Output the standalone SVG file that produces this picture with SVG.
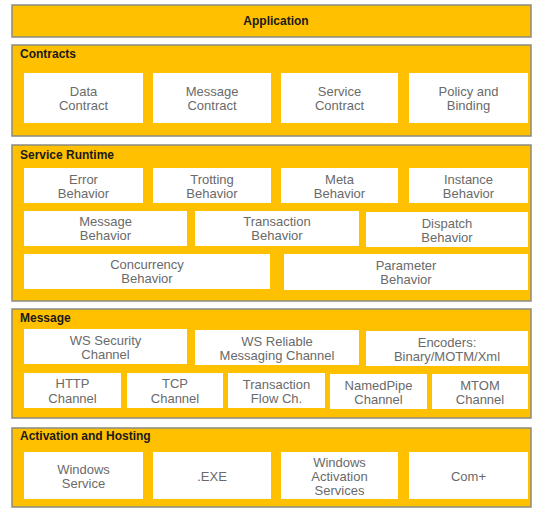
<svg xmlns="http://www.w3.org/2000/svg" width="535" height="508" viewBox="0 0 535 508">
<style>
.layer{fill:#FFC000;stroke:#8a8a80;stroke-width:1.5}
.box{fill:#ffffff;stroke:none}
.t{font-family:"Liberation Sans",Arial,sans-serif;font-size:13px;fill:#6a6a6a;text-anchor:middle}
.h{font-family:"Liberation Sans",Arial,sans-serif;font-size:12px;font-weight:bold;fill:#1a1a1a}
</style>
<rect width="535" height="508" fill="#ffffff"/>
<g id="application">
<rect class="layer" x="12" y="5" width="519" height="32"/>
<text class="h" x="276" y="25" text-anchor="middle">Application</text>
</g>
<g id="contracts">
<rect class="layer" x="12" y="45" width="519" height="91"/>
<text class="h" x="20" y="58">Contracts</text>
</g>
<g id="data-contract"><rect class="box" x="24" y="73" width="119" height="50"/><text class="t" x="83.5" y="96">Data</text><text class="t" x="83.5" y="110">Contract</text></g>
<g id="message-contract"><rect class="box" x="153" y="73" width="118" height="50"/><text class="t" x="212" y="96">Message</text><text class="t" x="212" y="110">Contract</text></g>
<g id="service-contract"><rect class="box" x="281" y="73" width="117" height="50"/><text class="t" x="339.5" y="96">Service</text><text class="t" x="339.5" y="110">Contract</text></g>
<g id="policy-binding"><rect class="box" x="409" y="73" width="119" height="50"/><text class="t" x="468.5" y="96">Policy and</text><text class="t" x="468.5" y="110">Binding</text></g>

<g id="service-runtime">
<rect class="layer" x="12" y="145" width="519" height="156"/>
<text class="h" x="20" y="159">Service Runtime</text>
</g>
<g id="error-behavior"><rect class="box" x="24" y="168" width="119" height="35"/><text class="t" x="83.5" y="184">Error</text><text class="t" x="83.5" y="198">Behavior</text></g>
<g id="trotting-behavior"><rect class="box" x="153" y="168" width="118" height="35"/><text class="t" x="212" y="184">Trotting</text><text class="t" x="212" y="198">Behavior</text></g>
<g id="meta-behavior"><rect class="box" x="281" y="168" width="117" height="35"/><text class="t" x="339.5" y="184">Meta</text><text class="t" x="339.5" y="198">Behavior</text></g>
<g id="instance-behavior"><rect class="box" x="409" y="168" width="119" height="35"/><text class="t" x="468.5" y="184">Instance</text><text class="t" x="468.5" y="198">Behavior</text></g>
<g id="message-behavior"><rect class="box" x="24" y="211" width="163" height="35"/><text class="t" x="105.5" y="226">Message</text><text class="t" x="105.5" y="240">Behavior</text></g>
<g id="transaction-behavior"><rect class="box" x="195" y="211" width="164" height="35"/><text class="t" x="277" y="226">Transaction</text><text class="t" x="277" y="240">Behavior</text></g>
<g id="dispatch-behavior"><rect class="box" x="366" y="212" width="162" height="35"/><text class="t" x="447" y="228">Dispatch</text><text class="t" x="447" y="242">Behavior</text></g>
<g id="concurrency-behavior"><rect class="box" x="24" y="254" width="246" height="35"/><text class="t" x="147" y="269">Concurrency</text><text class="t" x="147" y="283">Behavior</text></g>
<g id="parameter-behavior"><rect class="box" x="284" y="254" width="244" height="36"/><text class="t" x="406" y="270">Parameter</text><text class="t" x="406" y="284">Behavior</text></g>

<g id="message">
<rect class="layer" x="12" y="309" width="519" height="109"/>
<text class="h" x="20" y="322">Message</text>
</g>
<g id="ws-security"><rect class="box" x="24" y="329" width="163" height="35"/><text class="t" x="105.5" y="345">WS Security</text><text class="t" x="105.5" y="359">Channel</text></g>
<g id="ws-reliable"><rect class="box" x="195" y="330" width="164" height="35"/><text class="t" x="277" y="346">WS Reliable</text><text class="t" x="277" y="360">Messaging Channel</text></g>
<g id="encoders"><rect class="box" x="366" y="331" width="162" height="35"/><text class="t" x="447" y="347">Encoders:</text><text class="t" x="447" y="361">Binary/MOTM/Xml</text></g>
<g id="http-channel"><rect class="box" x="24" y="373" width="97" height="35"/><text class="t" x="72.5" y="388">HTTP</text><text class="t" x="72.5" y="403">Channel</text></g>
<g id="tcp-channel"><rect class="box" x="127" y="373" width="96" height="35"/><text class="t" x="175" y="388">TCP</text><text class="t" x="175" y="403">Channel</text></g>
<g id="transaction-flow"><rect class="box" x="228" y="373" width="97" height="35"/><text class="t" x="276.5" y="389">Transaction</text><text class="t" x="276.5" y="403">Flow Ch.</text></g>
<g id="namedpipe-channel"><rect class="box" x="330" y="374" width="97" height="35"/><text class="t" x="378.5" y="390">NamedPipe</text><text class="t" x="378.5" y="404">Channel</text></g>
<g id="mtom-channel"><rect class="box" x="432" y="374" width="96" height="35"/><text class="t" x="480" y="390">MTOM</text><text class="t" x="480" y="404">Channel</text></g>

<g id="activation-hosting">
<rect class="layer" x="12" y="428" width="519" height="79"/>
<text class="h" x="20" y="440">Activation and Hosting</text>
</g>
<g id="windows-service"><rect class="box" x="24" y="452" width="119" height="47"/><text class="t" x="83.5" y="474">Windows</text><text class="t" x="83.5" y="488">Service</text></g>
<g id="exe"><rect class="box" x="153" y="452" width="118" height="47"/><text class="t" x="212" y="481">.EXE</text></g>
<g id="was"><rect class="box" x="281" y="452" width="117" height="47"/><text class="t" x="339.5" y="467">Windows</text><text class="t" x="339.5" y="481">Activation</text><text class="t" x="339.5" y="495">Services</text></g>
<g id="com-plus"><rect class="box" x="409" y="452" width="119" height="47"/><text class="t" x="468.5" y="481">Com+</text></g>
</svg>
